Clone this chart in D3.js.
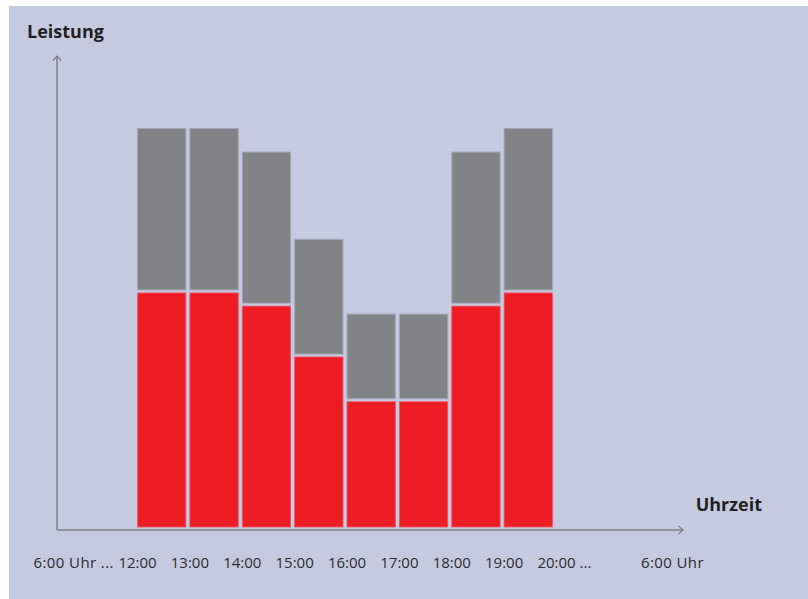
<!DOCTYPE html>
<html>
<head>
<meta charset="utf-8">
<script src="https://cdn.jsdelivr.net/npm/d3@7"></script>
<style>
  html, body { margin: 0; padding: 0; background: #ffffff; }
  svg { display: block; }
</style>
</head>
<body>
<svg id="chart" width="808" height="599"></svg>
<script>
// ---- data ----
const hours = [12, 13, 14, 15, 16, 17, 18, 19];          // bar start hours
const redValues  = [49.7, 49.7, 46.9, 36.1, 26.6, 26.6, 46.9, 49.7];  // lower (red) segment
const grayValues = [34.9, 34.9, 32.7, 25.0, 18.6, 18.6, 32.7, 34.9];  // upper (grey) segment
const tickHours = [12, 13, 14, 15, 16, 17, 18, 19, 20];
const startLabel = "6:00 Uhr ...";
const endLabel = "6:00 Uhr";
const yTitle = "Leistung";
const xTitle = "Uhrzeit";

// ---- layout ----
const W = 808, H = 599;
const axisX = 57, axisY = 530, axisTop = 56, axisRight = 683;
const baseY = 527;
const svg = d3.select("#chart");

svg.append("rect").attr("x", 9).attr("y", 6).attr("width", W - 9).attr("height", H - 6)
  .attr("fill", "#c6cae1");

const x = d3.scaleLinear().domain([12, 20]).range([137, 556]);
const y = d3.scaleLinear().domain([0, 100]).range([baseY, axisTop]);
const gap = 3;
const barW = x(13) - x(12) - gap;

const data = hours.map((h, i) => ({ h, red: redValues[i], gray: grayValues[i] }));

const g = svg.append("g");
// red segments
g.selectAll("rect.red").data(data).join("rect")
  .attr("class", "red")
  .attr("x", d => x(d.h) + 0.5)
  .attr("y", d => y(d.red))
  .attr("width", barW - 1)
  .attr("height", d => y(0) - y(d.red))
  .attr("fill", "#ee1c25")
  .attr("stroke", "#f0566a")
  .attr("stroke-width", 0.8);
// grey segments
g.selectAll("rect.gray").data(data).join("rect")
  .attr("class", "gray")
  .attr("x", d => x(d.h) + 0.5)
  .attr("y", d => y(d.red + d.gray))
  .attr("width", barW - 1)
  .attr("height", d => y(d.red) - y(d.red + d.gray) - gap)
  .attr("fill", "#828387")
  .attr("stroke", "#a2a5b8")
  .attr("stroke-width", 1);

// axes lines with open arrowheads
const axisColor = "#7f8087";
const axes = svg.append("g").attr("stroke", axisColor).attr("stroke-width", 1.5).attr("fill", "none");
axes.append("path").attr("d", `M${axisX},${axisY}V${axisTop}`);
axes.append("path").attr("d", `M${axisX - 4},${axisTop + 4.5}L${axisX},${axisTop}L${axisX + 4},${axisTop + 4.5}`).attr("stroke-width", 1.2);
axes.append("path").attr("d", `M${axisX},${axisY}H${axisRight}`);
axes.append("path").attr("d", `M${axisRight - 4.5},${axisY - 4}L${axisRight},${axisY}L${axisRight - 4.5},${axisY + 4}`).attr("stroke-width", 1.2);

// tick labels via d3 axis (no lines)
const font = "'Open Sans', sans-serif";
const fs = 15;
const xAxis = d3.axisBottom(x).tickValues(tickHours).tickSize(0).tickPadding(0)
  .tickFormat(h => h + ":00");
const ax = svg.append("g").attr("transform", `translate(0,568)`).call(xAxis);
ax.select(".domain").remove();
ax.selectAll("text")
  .attr("dy", 0).attr("y", 0)
  .attr("font-family", font).attr("font-size", fs).attr("fill", "#2a2a2d");
// last tick gets trailing ellipsis, keeping "20:00" centred on its hour
ax.selectAll(".tick").filter(d => d === 20).select("text").each(function () {
  const t = d3.select(this);
  const w = this.getComputedTextLength();
  t.text("20:00 ...").attr("text-anchor", "start").attr("x", -w / 2);
});
// first tick width for start label placement
let firstW = 37;
ax.selectAll(".tick").filter(d => d === 12).select("text").each(function () { firstW = this.getComputedTextLength(); });

svg.append("text").attr("x", x(12) - firstW / 2 - 4).attr("y", 568)
  .attr("text-anchor", "end").attr("font-family", font).attr("font-size", fs).attr("fill", "#2a2a2d")
  .attr("letter-spacing", 0.4)
  .text(startLabel);
svg.append("text").attr("x", axisRight + 21).attr("y", 568)
  .attr("text-anchor", "end").attr("font-family", font).attr("font-size", fs).attr("fill", "#2a2a2d")
  .attr("letter-spacing", 0.4)
  .text(endLabel);

// titles
svg.append("text").attr("x", 27).attr("y", 38)
  .attr("font-family", font).attr("font-weight", 700).attr("font-size", 18).attr("fill", "#231f20")
  .text(yTitle);
svg.append("text").attr("x", 762).attr("y", 511)
  .attr("text-anchor", "end")
  .attr("font-family", font).attr("font-weight", 700).attr("font-size", 18).attr("fill", "#231f20")
  .text(xTitle);
</script>
</body>
</html>
